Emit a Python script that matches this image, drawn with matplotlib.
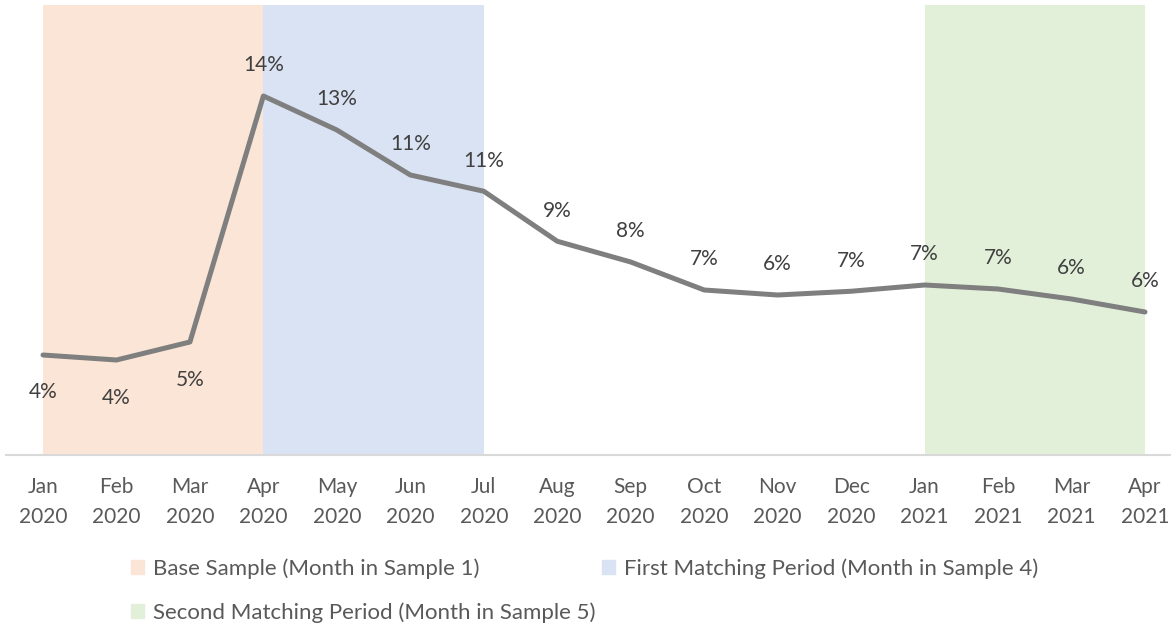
import matplotlib
matplotlib.use("Agg")
import matplotlib.pyplot as plt
from matplotlib.patches import Patch

months = ["Jan\n2020", "Feb\n2020", "Mar\n2020", "Apr\n2020", "May\n2020", "Jun\n2020",
          "Jul\n2020", "Aug\n2020", "Sep\n2020", "Oct\n2020", "Nov\n2020", "Dec\n2020",
          "Jan\n2021", "Feb\n2021", "Mar\n2021", "Apr\n2021"]
rate = [4.0, 3.8, 4.52, 14.36, 13.0, 11.2, 10.55, 8.55, 7.72, 6.6, 6.4, 6.55,
        6.8, 6.64, 6.24, 5.72]
label_below = [True, True, True] + [False] * 13

base_period = (0, 3)
first_match = (3, 6)
second_match = (12, 15)
legend_labels = ["Base Sample (Month in Sample 1)",
                 "First Matching Period (Month in Sample 4)",
                 "Second Matching Period (Month in Sample 5)"]
c_base, c_first, c_second = "#FBE5D6", "#DAE3F3", "#E2F0D9"

plt.rcParams['font.family'] = ['Lato', 'DejaVu Sans']

W, H = 1171, 625
fig = plt.figure(figsize=(W / 100, H / 100), dpi=100)
ax = fig.add_axes([6 / W, (H - 455) / H, 1165 / W, 450 / H])

x = list(range(len(months)))
ax.axvspan(*base_period, color=c_base, lw=0, zorder=0)
ax.axvspan(*first_match, color=c_first, lw=0, zorder=0)
ax.axvspan(*second_match, color=c_second, lw=0, zorder=0)

ax.plot(x, rate, color="#7f7f7f", lw=3.6, solid_joinstyle="round",
        solid_capstyle="round", zorder=3)

for xi, v, below in zip(x, rate, label_below):
    ax.annotate(f"{round(v)}%", (xi, v), xytext=(0, -27 if below else 22),
                textcoords="offset points", ha="center", va="center",
                fontsize=15, color="#404040", zorder=4)

ax.set_xlim(-0.5036, 15.354)
ax.set_ylim(0, 18)
ax.set_xticks(x)
ax.set_xticklabels(months, fontsize=15, color="#595959", linespacing=1.62)
ax.tick_params(axis="x", length=0, pad=16)
ax.set_yticks([])
for s in ["top", "left", "right"]:
    ax.spines[s].set_visible(False)
ax.spines["bottom"].set_color("#d9d9d9")
ax.spines["bottom"].set_linewidth(1.5)
ax.spines["bottom"].set_zorder(5)

entries = [(c_base, legend_labels[0], 131, 569),
           (c_first, legend_labels[1], 602, 569),
           (c_second, legend_labels[2], 131, 613)]
for col, lab, px, py in entries:
    fig.legend(handles=[Patch(color=col, label=lab)], loc="center left",
               bbox_to_anchor=(px / W, 1 - py / H), frameon=False, fontsize=16,
               labelcolor="#595959", handlelength=0.59, handleheight=0.59,
               handletextpad=0.4, borderpad=0, borderaxespad=0)

fig.savefig("out.png", dpi=100)
